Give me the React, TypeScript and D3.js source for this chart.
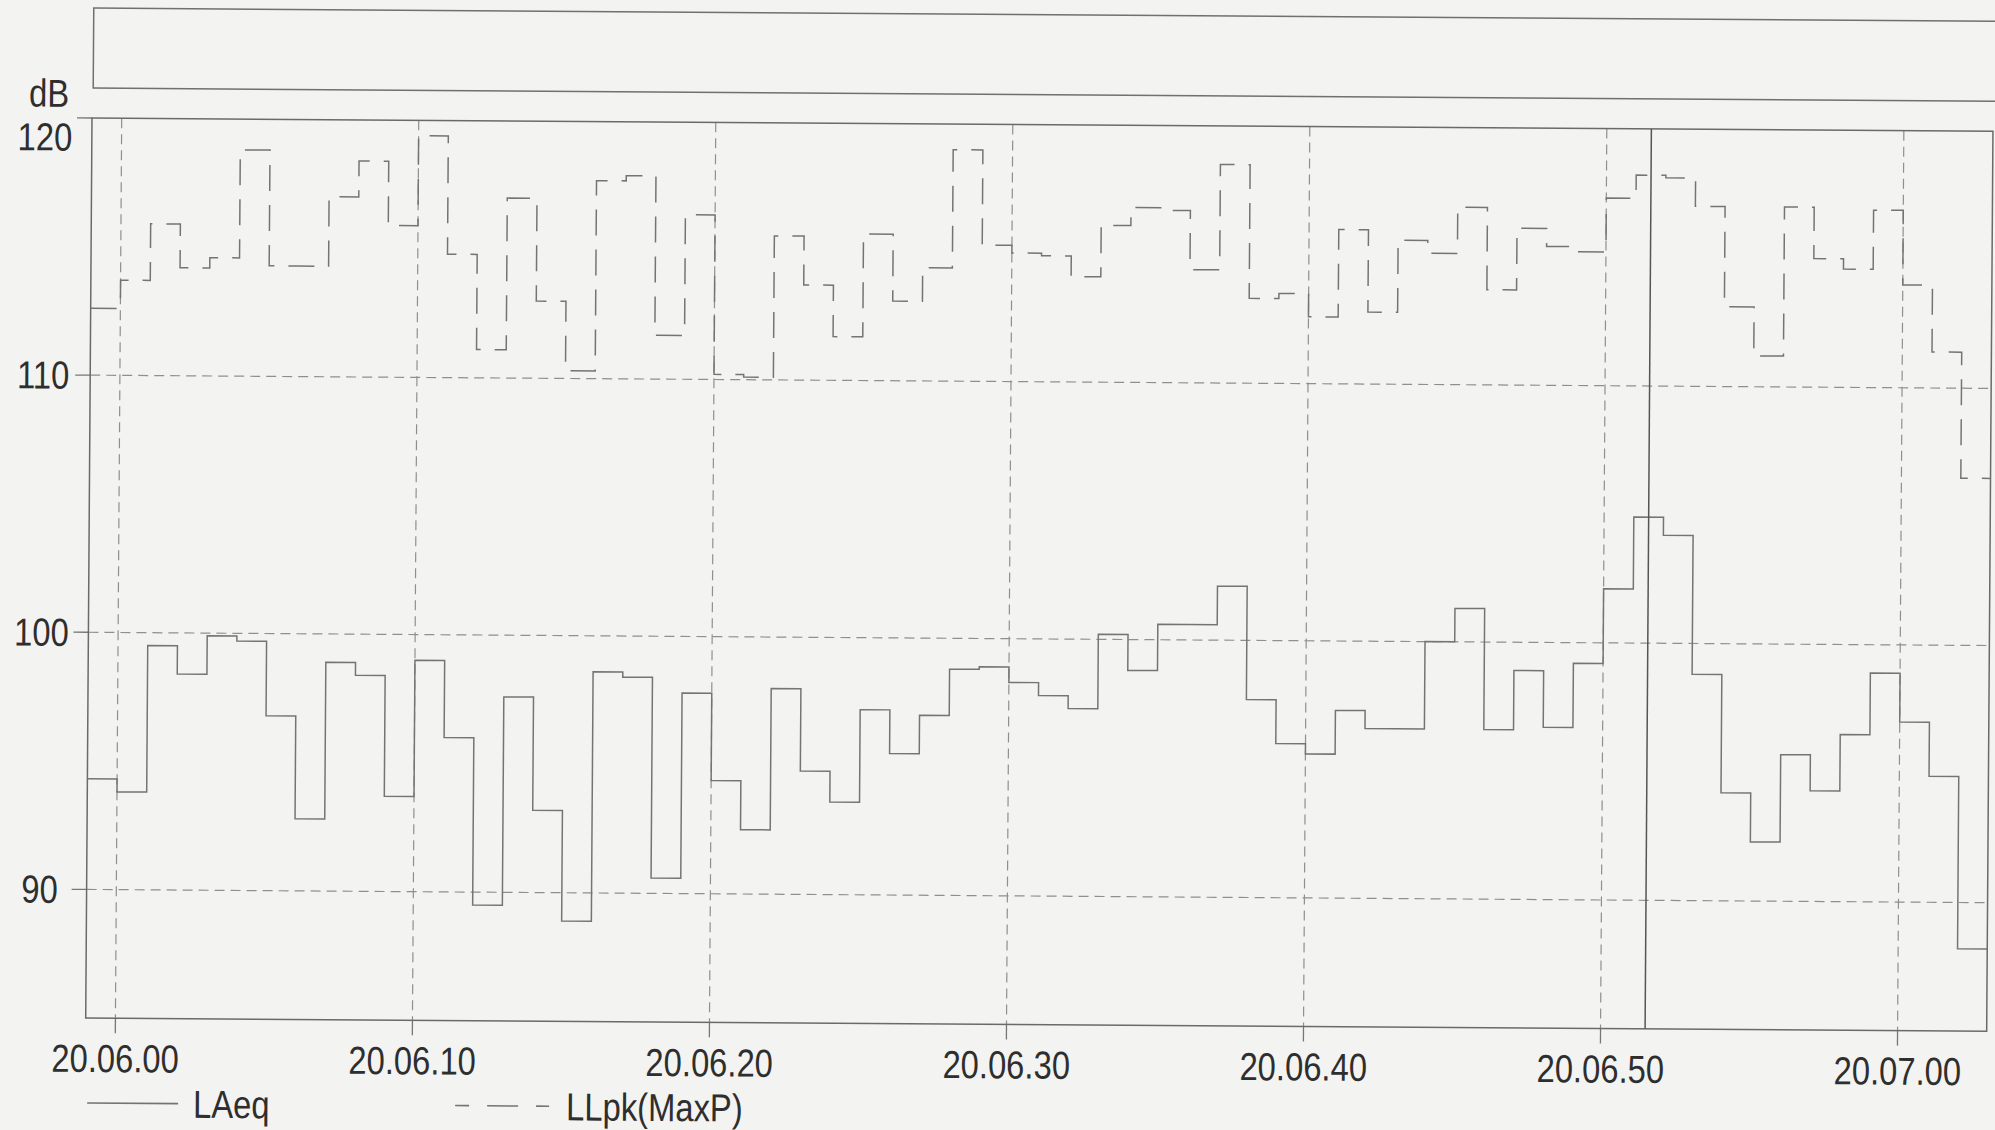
import React, { useEffect, useRef } from 'react';
import * as d3 from 'd3';

// one value per second, 20:05:59 .. 20:07:02
const laeq = [
  94.3, 93.8, 99.5, 98.4, 99.9, 99.7, 96.8, 92.8, 98.9, 98.4,
  93.7, 99.0, 96.0, 89.5, 97.6, 93.2, 88.9, 98.6, 98.4, 90.6,
  97.8, 94.4, 92.5, 98.0, 94.8, 93.6, 97.2, 95.5, 97.0, 98.8,
  98.9, 98.3, 97.8, 97.3, 100.2, 98.8, 100.6, 100.6, 102.1, 97.7,
  96.0, 95.6, 97.3, 96.6, 96.6, 100.0, 101.3, 96.6, 98.9, 96.7,
  99.2, 102.1, 104.9, 104.2, 98.8, 94.2, 92.3, 95.7, 94.3, 96.5,
  98.9, 97.0, 94.9, 88.2,
];

const llpk = [
  112.6, 113.7, 115.9, 114.2, 114.6, 118.8, 114.3, 114.3, 117.0, 118.4,
  115.9, 119.4, 114.8, 111.1, 117.0, 113.0, 110.3, 117.7, 117.9, 111.7,
  116.4, 110.2, 110.1, 115.6, 113.7, 111.7, 115.7, 113.1, 114.4, 119.0,
  115.3, 115.0, 114.9, 114.1, 116.1, 116.8, 116.7, 114.4, 118.5, 113.3,
  113.5, 112.6, 116.0, 112.8, 115.6, 115.1, 116.9, 113.7, 116.1, 115.4,
  115.2, 117.3, 118.2, 118.1, 117.0, 113.1, 111.2, 117.0, 115.0, 114.6,
  116.9, 114.0, 111.4, 106.5,
];

const startTime = new Date(2002, 3, 10, 20, 5, 59);
const endTime = new Date(2002, 3, 10, 20, 7, 3);
const cursorTime = new Date(2002, 3, 10, 20, 6, 51, 500);
const yDomain = [85, 120];
const yTicks = [90, 100, 110, 120];
const seriesNames = ['LAeq', 'LLpk(MaxP)'];

const W = 1995;
const H = 1130;
const left = 92;
const top = 118;
const plotW = 1901;
const plotH = 900;
const font = "'Liberation Sans', Arial, sans-serif";
const textColor = '#2e2e2e';

// the printout uses a condensed sans, so squeeze the glyphs horizontally
const addText = (parent, x, y, str, anchor, baseline = null) => {
  const t = parent.append('text')
    .attr('transform', `translate(${x}, ${y}) scale(0.84, 1)`)
    .attr('text-anchor', anchor)
    .attr('fill', textColor)
    .attr('font-size', 39)
    .attr('font-family', font)
    .text(str);
  if (baseline) t.attr('dy', baseline);
  return t;
};

const App = () => {
  const svgRef = useRef(null);

  useEffect(() => {
    const svg = d3.select(svgRef.current);
    svg.selectAll('*').remove();

    svg.append('rect').attr('width', W).attr('height', H).attr('fill', '#f3f3f1');

    // the scanned page is slightly tilted
    const g = svg.append('g').attr('transform', `rotate(0.4, ${left}, ${top})`);

    const x = d3.scaleTime().domain([startTime, endTime]).range([left, left + plotW]);
    const y = d3.scaleLinear().domain(yDomain).range([top + plotH, top]);

    // empty header box
    g.append('rect')
      .attr('x', 93).attr('y', 8)
      .attr('width', 2000).attr('height', 80)
      .attr('fill', 'none').attr('stroke', '#707070').attr('stroke-width', 1.5);

    // gridlines
    const xTicks = x.ticks(d3.timeSecond.every(10));
    g.append('g').selectAll('line')
      .data(xTicks)
      .join('line')
      .attr('x1', d => x(d)).attr('x2', d => x(d))
      .attr('y1', top).attr('y2', top + plotH)
      .attr('stroke', '#8f8f8f').attr('stroke-width', 1.2)
      .attr('stroke-dasharray', '10 6');

    g.append('g').selectAll('line')
      .data(yTicks.filter(d => d < 120))
      .join('line')
      .attr('x1', left).attr('x2', left + plotW)
      .attr('y1', d => y(d)).attr('y2', d => y(d))
      .attr('stroke', '#8f8f8f').attr('stroke-width', 1.2)
      .attr('stroke-dasharray', '10 6');

    // x ticks + labels
    const fmt = d3.timeFormat('%H.%M.%S');
    const xAxis = g.append('g');
    xTicks.forEach(t => {
      xAxis.append('line')
        .attr('x1', x(t)).attr('x2', x(t))
        .attr('y1', top + plotH).attr('y2', top + plotH + 15)
        .attr('stroke', '#777').attr('stroke-width', 1.3);
      addText(xAxis, x(t), top + plotH + 54, fmt(t), 'middle');
    });

    // y ticks + labels
    const yAxis = g.append('g');
    yTicks.forEach(v => {
      yAxis.append('line')
        .attr('x1', left - 15).attr('x2', left)
        .attr('y1', y(v)).attr('y2', y(v))
        .attr('stroke', '#777').attr('stroke-width', 1.3);
      // 120 sits on the top edge, its label is pushed down inside
      const ly = v === 120 ? y(v) + 19 : y(v);
      addText(yAxis, 45, ly, String(v), 'middle', '0.35em');
    });

    addText(g, 49, 107, 'dB', 'middle');

    // plot frame
    g.append('rect')
      .attr('x', left).attr('y', top)
      .attr('width', plotW).attr('height', plotH)
      .attr('fill', 'none').attr('stroke', '#6a6a6a').attr('stroke-width', 1.5);

    g.append('defs').append('clipPath').attr('id', 'plot-clip')
      .append('rect')
      .attr('x', left).attr('y', top).attr('width', plotW).attr('height', plotH);

    const toPoints = values => values
      .map((v, i) => [d3.timeSecond.offset(startTime, i), v])
      .concat([[endTime, values[values.length - 1]]]);

    const line = d3.line()
      .x(d => x(d[0]))
      .y(d => y(d[1]))
      .curve(d3.curveStepAfter);

    const plot = g.append('g').attr('clip-path', 'url(#plot-clip)');

    plot.append('path')
      .attr('d', line(toPoints(llpk)))
      .attr('fill', 'none').attr('stroke', '#747474').attr('stroke-width', 1.5)
      .attr('stroke-dasharray', '26 14');

    plot.append('path')
      .attr('d', line(toPoints(laeq)))
      .attr('fill', 'none').attr('stroke', '#747474').attr('stroke-width', 1.5);

    // cursor
    plot.append('line')
      .attr('x1', x(cursorTime)).attr('x2', x(cursorTime))
      .attr('y1', top).attr('y2', top + plotH)
      .attr('stroke', '#555').attr('stroke-width', 1.5);

    // legend
    const legend = g.append('g');
    const legendItems = [
      { name: seriesNames[0], x1: 94, x2: 185, tx: 200, dash: null, offset: 0 },
      { name: seriesNames[1], x1: 462, x2: 556, tx: 573, dash: '31 18', offset: 17 },
    ];
    legendItems.forEach(item => {
      legend.append('line')
        .attr('x1', item.x1).attr('x2', item.x2)
        .attr('y1', 1103).attr('y2', 1103)
        .attr('stroke', '#747474').attr('stroke-width', 1.6)
        .attr('stroke-dasharray', item.dash)
        .attr('stroke-dashoffset', item.offset);
      addText(legend, item.tx, 1117, item.name, 'start');
    });
  }, []);

  return (
    <svg
      ref={svgRef}
      width={W}
      height={H}
      style={{ position: 'absolute', left: 0, top: 0, display: 'block' }}
    ></svg>
  );
};

export default App;
